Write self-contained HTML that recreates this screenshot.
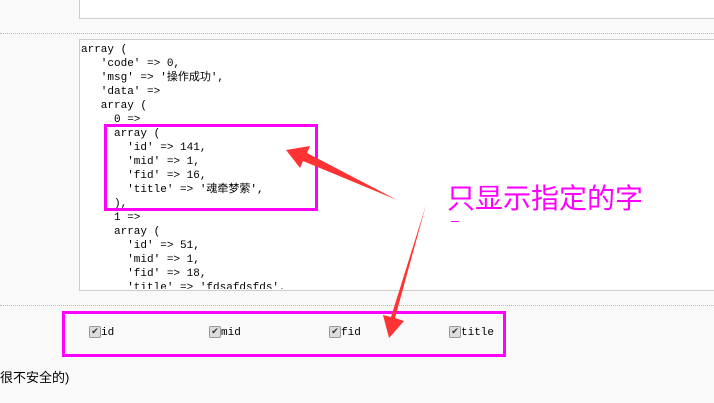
<!DOCTYPE html>
<html><head><meta charset="utf-8"><style>
body{margin:0;width:714px;height:403px;background:#f9f9f9;position:relative;overflow:hidden;font-family:"Liberation Sans","Noto Sans CJK SC",sans-serif}
.box{position:absolute;background:#fff;border:1px solid #ccc}
.dot{position:absolute;left:0;width:714px;border-top:1px dotted #bbb}
pre{position:absolute;left:81px;top:43px;height:246px;overflow:hidden;margin:0;font:11px/14px "Liberation Mono","Noto Sans CJK SC",monospace;color:#000}
.pk{position:absolute;border:3px solid #f0f;box-sizing:border-box}
.cb{position:absolute;top:326px;font:11px "Liberation Mono",monospace}
.cb i{display:inline-block;width:10px;height:10px;border:1px solid #999;background:#ddd;border-radius:2px;vertical-align:1px;font-style:normal;font-size:9px;line-height:10px;text-align:center;color:#333}
</style></head><body>
<div class="box" style="left:79px;top:-1px;width:640px;height:18px"></div>
<div class="dot" style="top:33px"></div>
<div class="box" style="left:79px;top:39px;width:640px;height:250px"></div>
<pre>array (
   'code' => 0,
   'msg' => '操作成功',
   'data' =>
   array (
     0 =>
     array (
       'id' => 141,
       'mid' => 1,
       'fid' => 16,
       'title' => '魂牵梦萦',
     ),
     1 =>
     array (
       'id' => 51,
       'mid' => 1,
       'fid' => 18,
       'title' => 'fdsafdsfds',</pre>
<div class="dot" style="top:305px"></div>
<div class="pk" style="left:104px;top:124px;width:214px;height:87px"></div>
<div class="pk" style="left:62px;top:311px;width:444px;height:46px"></div>
<div class="cb" style="left:89px"><i>✔</i>id</div>
<div class="cb" style="left:209px"><i>✔</i>mid</div>
<div class="cb" style="left:329px"><i>✔</i>fid</div>
<div class="cb" style="left:449px"><i>✔</i>title</div>
<div style="position:absolute;left:0;top:367px;font-size:13px">很不安全的)</div>
<div style="position:absolute;left:447px;top:180px;font-size:28px;color:#f0f;font-family:'Noto Sans CJK SC',sans-serif;line-height:34px">只显示指定的字</div>
<div style="position:absolute;left:451px;top:221px;width:8px;height:1px;background:#f0f"></div>
<svg width="714" height="403" style="position:absolute;left:0;top:0">
<polygon points="397,200 303,161 300,168 286,150 310,146 307,153" fill="#f33"/>
<polygon points="426,205 395,318 404,321 389,338 383,315 391,317" fill="#f33"/>
</svg>
</body></html>
